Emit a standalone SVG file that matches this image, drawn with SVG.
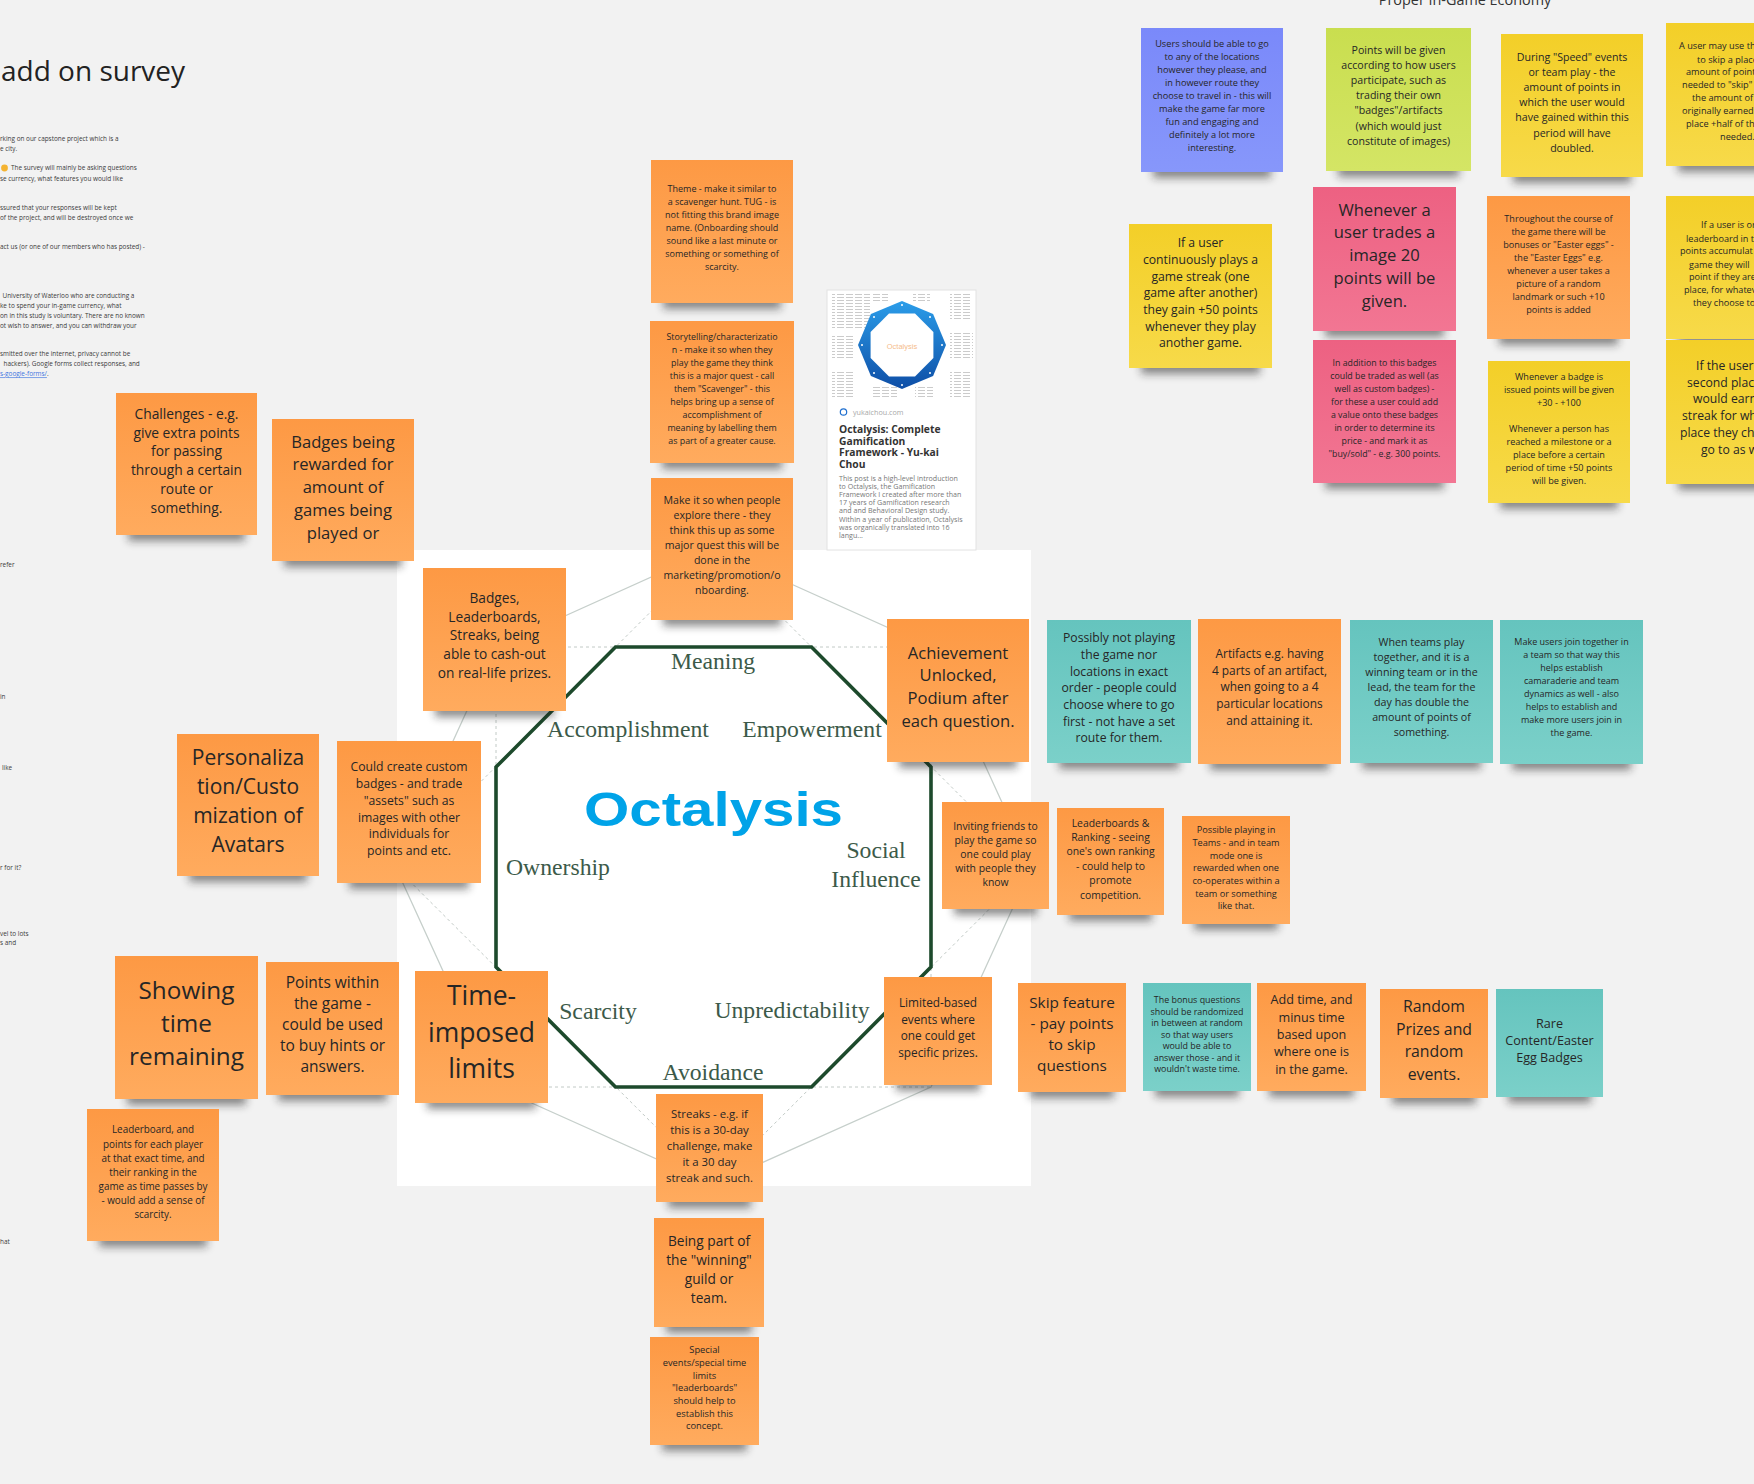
<svg xmlns="http://www.w3.org/2000/svg" width="1754" height="1484" viewBox="0 0 1754 1484">
<defs>
<linearGradient id="gO" x1="0" y1="0" x2="0" y2="1"><stop offset="0" stop-color="#fd9944"/><stop offset="1" stop-color="#ffab5e"/></linearGradient>
<linearGradient id="gT" x1="0" y1="0" x2="0" y2="1"><stop offset="0" stop-color="#65c4be"/><stop offset="1" stop-color="#7bd0c9"/></linearGradient>
<linearGradient id="gY" x1="0" y1="0" x2="0" y2="1"><stop offset="0" stop-color="#f3cf28"/><stop offset="1" stop-color="#f7da49"/></linearGradient>
<linearGradient id="gP" x1="0" y1="0" x2="0" y2="1"><stop offset="0" stop-color="#ed6182"/><stop offset="1" stop-color="#f27693"/></linearGradient>
<linearGradient id="gB" x1="0" y1="0" x2="0" y2="1"><stop offset="0" stop-color="#7a89fa"/><stop offset="1" stop-color="#8797fb"/></linearGradient>
<linearGradient id="gG" x1="0" y1="0" x2="0" y2="1"><stop offset="0" stop-color="#c9de4f"/><stop offset="1" stop-color="#d4e565"/></linearGradient>
<linearGradient id="gOct" x1="0" y1="0" x2="0" y2="1"><stop offset="0" stop-color="#2b9de9"/><stop offset="1" stop-color="#0e4ea6"/></linearGradient>
<filter id="blur" x="-30%" y="-100%" width="160%" height="300%"><feGaussianBlur stdDeviation="4.5"/></filter>
<pattern id="tt" width="9" height="3" patternUnits="userSpaceOnUse"><rect x="0" y="0" width="7" height="0.7" fill="#b4b4b4"/></pattern>
<style>
.o{fill:url(#gO)}.tl{fill:url(#gT)}.y{fill:url(#gY)}.p{fill:url(#gP)}.b{fill:url(#gB)}.g{fill:url(#gG)}
.sh{fill:#1a1a1a;opacity:.5;filter:url(#blur)}
.t{font-family:"Open Sans","Liberation Sans",sans-serif;fill:#262626;text-anchor:middle}
.ts{font-family:"Open Sans","Liberation Sans",sans-serif;fill:#262626;text-anchor:start}
.lbl{font-family:"Liberation Serif",serif;font-size:23.7px;fill:#3c5a49;text-anchor:middle}
.tiny{font-family:"Open Sans","Liberation Sans",sans-serif;font-size:6.4px;fill:#3a3a3a}
.sol{fill:none;stroke:#c6cfcb;stroke-width:1.3}
.dsh{fill:none;stroke:#c2cac6;stroke-width:1;stroke-dasharray:3 3}
</style>
</defs>
<rect width="1754" height="1484" fill="#f2f2f2"/>

<g id="survey-text">
<text x="1" y="81" style="font-family:'Open Sans','Liberation Sans',sans-serif;font-size:28px;fill:#222">add on survey</text>
<g class="tiny">
<text x="0" y="141.2">rking on our capstone project which is a</text>
<text x="0" y="151.2">e city.</text>
<text x="11" y="170.2">The survey will mainly be asking questions</text>
<text x="0" y="181.2">se currency, what features you would like</text>
<text x="0" y="210.2">ssured that your responses will be kept</text>
<text x="0" y="219.6">of the project, and will be destroyed once we</text>
<text x="0" y="249.2">act us (or one of our members who has posted) -</text>
<text x="2.5" y="298.2">University of Waterloo who are conducting a</text>
<text x="0" y="307.6">ke to spend your in-game currency, what</text>
<text x="0" y="318">on in this study is voluntary. There are no known</text>
<text x="0" y="327.6">ot wish to answer, and you can withdraw your</text>
<text x="0" y="356.2">smitted over the internet, privacy cannot be</text>
<text x="3.5" y="366.4">hackers).  Google forms collect responses, and</text>
<text x="0" y="376.4"><tspan fill="#3d74e0" text-decoration="underline">s-google-forms/</tspan>.</text>
<text x="0" y="567">refer</text>
<text x="0" y="699">in</text>
<text x="2" y="770">like</text>
<text x="0" y="870">r for it?</text>
<text x="0" y="936">vel to lots</text>
<text x="0" y="945">s and</text>
<text x="0" y="1244">hat</text>
</g>
<circle cx="4.5" cy="168" r="3.4" fill="#f4b331"/>
</g>

<text x="1465" y="5" style="font-family:'Open Sans','Liberation Sans',sans-serif;font-size:14.4px;fill:#333;text-anchor:middle">Proper In-Game Economy</text>

<g id="octalysis-panel">
<rect x="397" y="550" width="634" height="636" fill="#ffffff"/>
</g>

<g id="connectors">
<polygon class="sol" points="713.5,549 931,647 1031.5,867 931,1087 713.5,1184.5 496,1087 395.5,867 496,647"/>
<rect class="dsh" x="496" y="647" width="435" height="440"/>
<polygon class="dsh" points="713.5,549 1031.5,867 713.5,1184.5 395.5,867"/>
<polygon points="615.5,647 811.5,647 931,767 931,967 811.5,1087 615.5,1087 496,967 496,767" fill="#ffffff" stroke="#1d4a2c" stroke-width="3.6" stroke-linejoin="miter"/>
</g>

<g id="octalysis-labels">
<text x="713.5" y="826" textLength="259" lengthAdjust="spacingAndGlyphs" style="font-family:'Liberation Sans',Arial,sans-serif;font-weight:bold;font-size:49px;fill:#00a3e8;text-anchor:middle">Octalysis</text>
<text class="lbl" x="713" y="669">Meaning</text>
<text class="lbl" x="628" y="737">Accomplishment</text>
<text class="lbl" x="812" y="737">Empowerment</text>
<text class="lbl" x="558" y="875">Ownership</text>
<text class="lbl" x="876" y="858">Social</text>
<text class="lbl" x="876" y="887">Influence</text>
<text class="lbl" x="598" y="1019">Scarcity</text>
<text class="lbl" x="792" y="1018">Unpredictability</text>
<text class="lbl" x="713" y="1080">Avoidance</text>
</g>

<g id="card">
<rect x="827" y="290" width="149" height="260" fill="#ffffff" stroke="#e2e2e2" stroke-width="1"/>
<rect x="832" y="292" width="38" height="38" fill="url(#tt)"/>
<rect x="872" y="292" width="16" height="11" fill="url(#tt)"/>
<rect x="913" y="292" width="17" height="11" fill="url(#tt)"/>
<rect x="950" y="292" width="21" height="28" fill="url(#tt)"/>
<rect x="832" y="335" width="21" height="25" fill="url(#tt)"/>
<rect x="950" y="332" width="23" height="26" fill="url(#tt)"/>
<rect x="832" y="370" width="23" height="28" fill="url(#tt)"/>
<rect x="872" y="387" width="25" height="11" fill="url(#tt)"/>
<rect x="915" y="387" width="18" height="11" fill="url(#tt)"/>
<rect x="950" y="370" width="20" height="28" fill="url(#tt)"/>
<polygon points="902,301 933.1,313.9 946,345 933.1,376.1 902,389 870.9,376.1 858,345 870.9,313.9" fill="url(#gOct)"/>
<polygon points="889,313.6 915,313.6 933.4,332 933.4,358 915,376.4 889,376.4 870.6,358 870.6,332" fill="#ffffff"/>
<g fill="#ffffff"><circle cx="902" cy="305" r="1"/><circle cx="930" cy="317" r="1"/><circle cx="942" cy="345" r="1"/><circle cx="930" cy="373" r="1"/><circle cx="902" cy="385" r="1"/><circle cx="874" cy="373" r="1"/><circle cx="862" cy="345" r="1"/><circle cx="874" cy="317" r="1"/></g>
<text x="902" y="349" style="font-family:'Liberation Sans',sans-serif;font-size:7.5px;fill:#f5bd8c;text-anchor:middle">Octalysis</text>
<circle cx="843.5" cy="412" r="3.2" fill="none" stroke="#1f6fcf" stroke-width="1.2"/>
<text x="853" y="414.5" style="font-family:'Open Sans','Liberation Sans',sans-serif;font-size:7.2px;fill:#a8a8a8">yukaichou.com</text>
<g style="font-family:'Open Sans','Liberation Sans',sans-serif;font-weight:bold;font-size:10.3px;fill:#333">
<text x="839" y="433">Octalysis: Complete</text>
<text x="839" y="444.5">Gamification</text>
<text x="839" y="456">Framework - Yu-kai</text>
<text x="839" y="467.5">Chou</text>
</g>
<g style="font-family:'Open Sans','Liberation Sans',sans-serif;font-size:7.1px;fill:#777">
<text x="839" y="480.6">This post is a high-level introduction</text>
<text x="839" y="488.8">to Octalysis, the Gamification</text>
<text x="839" y="497">Framework I created after more than</text>
<text x="839" y="505.2">17 years of Gamification research</text>
<text x="839" y="513.4">and and Behavioral Design study.</text>
<text x="839" y="521.6">Within a year of publication, Octalysis</text>
<text x="839" y="529.8">was organically translated into 16</text>
<text x="839" y="538">langu...</text>
</g>
</g>

<g id="n-challenges"><rect class="sh" x="128" y="525" width="117" height="16"/><rect class="o" x="116" y="393" width="141" height="142"/>
<text class="t" style="font-size:13.8px"><tspan x="186.5" y="418.7">Challenges - e.g.</tspan><tspan x="186.5" y="437.5">give extra points</tspan><tspan x="186.5" y="456.3">for passing</tspan><tspan x="186.5" y="475.1">through a certain</tspan><tspan x="186.5" y="493.9">route or</tspan><tspan x="186.5" y="512.7">something.</tspan></text></g>

<g id="n-badges-rewarded"><rect class="sh" x="284" y="551" width="118" height="16"/><rect class="o" x="272" y="419" width="142" height="142"/>
<text class="t" style="font-size:16.6px"><tspan x="343" y="447.6">Badges being</tspan><tspan x="343" y="470.4">rewarded for</tspan><tspan x="343" y="493.2">amount of</tspan><tspan x="343" y="516">games being</tspan><tspan x="343" y="538.8">played or</tspan></text></g>

<g id="n-badges-leaderboards"><rect class="sh" x="435" y="701" width="119" height="16"/><rect class="o" x="423" y="568" width="143" height="143"/>
<text class="t" style="font-size:13.7px"><tspan x="494.5" y="602.7">Badges,</tspan><tspan x="494.5" y="621.5">Leaderboards,</tspan><tspan x="494.5" y="640.3">Streaks, being</tspan><tspan x="494.5" y="659.1">able to cash-out</tspan><tspan x="494.5" y="677.9">on real-life prizes.</tspan></text></g>

<g id="n-personalization"><rect class="sh" x="189" y="866" width="118" height="16"/><rect class="o" x="177" y="734" width="142" height="142"/>
<text class="t" style="font-size:21px"><tspan x="248" y="765.1">Personaliza</tspan><tspan x="248" y="794.1">tion/Custo</tspan><tspan x="248" y="823.1">mization of</tspan><tspan x="248" y="852.1">Avatars</tspan></text></g>

<g id="n-could-create"><rect class="sh" x="349" y="873" width="120" height="16"/><rect class="o" x="337" y="741" width="144" height="142"/>
<text class="t" style="font-size:12.2px"><tspan x="409" y="771.1">Could create custom</tspan><tspan x="409" y="787.9">badges - and trade</tspan><tspan x="409" y="804.7">"assets" such as</tspan><tspan x="409" y="821.5">images with other</tspan><tspan x="409" y="838.3">individuals for</tspan><tspan x="409" y="855.1">points and etc.</tspan></text></g>

<g id="n-showing-time"><rect class="sh" x="127" y="1089" width="119" height="16"/><rect class="o" x="115" y="956" width="143" height="143"/>
<text class="t" style="font-size:24.3px"><tspan x="186.5" y="999.3">Showing</tspan><tspan x="186.5" y="1032.3">time</tspan><tspan x="186.5" y="1065.3">remaining</tspan></text></g>

<g id="n-points-within"><rect class="sh" x="278" y="1085" width="109" height="16"/><rect class="o" x="266" y="962" width="133" height="133"/>
<text class="t" style="font-size:15.5px"><tspan x="332.5" y="988.3">Points within</tspan><tspan x="332.5" y="1009.3">the game -</tspan><tspan x="332.5" y="1030.3">could be used</tspan><tspan x="332.5" y="1051.3">to buy hints or</tspan><tspan x="332.5" y="1072.3">answers.</tspan></text></g>

<g id="n-time-imposed"><rect class="sh" x="427" y="1093" width="109" height="16"/><rect class="o" x="415" y="971" width="133" height="132"/>
<text class="t" style="font-size:26.5px"><tspan x="481.5" y="1005">Time-</tspan><tspan x="481.5" y="1041.5">imposed</tspan><tspan x="481.5" y="1078">limits</tspan></text></g>

<g id="n-leaderboard-points"><rect class="sh" x="99" y="1231" width="108" height="16"/><rect class="o" x="87" y="1109" width="132" height="132"/>
<text class="t" style="font-size:9.9px"><tspan x="153" y="1133.4">Leaderboard, and</tspan><tspan x="153" y="1147.5">points for each player</tspan><tspan x="153" y="1161.6">at that exact time, and</tspan><tspan x="153" y="1175.7">their ranking in the</tspan><tspan x="153" y="1189.8">game as time passes by</tspan><tspan x="153" y="1203.9">- would add a sense of</tspan><tspan x="153" y="1218">scarcity.</tspan></text></g>

<g id="n-theme"><rect class="sh" x="663" y="293" width="118" height="16"/><rect class="o" x="651" y="160" width="142" height="143"/>
<text class="t" style="font-size:9px"><tspan x="722" y="192.1">Theme - make it similar to</tspan><tspan x="722" y="205.1">a scavenger hunt. TUG - is</tspan><tspan x="722" y="218.1">not fitting this brand image</tspan><tspan x="722" y="231.1">name. (Onboarding should</tspan><tspan x="722" y="244.1">sound like a last minute or</tspan><tspan x="722" y="257.1">something or something of</tspan><tspan x="722" y="270.1">scarcity.</tspan></text></g>

<g id="n-storytelling"><rect class="sh" x="662" y="453" width="120" height="16"/><rect class="o" x="650" y="321" width="144" height="142"/>
<text class="t" style="font-size:8.9px"><tspan x="722" y="340">Storytelling/characterizatio</tspan><tspan x="722" y="353">n - make it so when they</tspan><tspan x="722" y="366">play the game they think</tspan><tspan x="722" y="379">this is a major quest - call</tspan><tspan x="722" y="392">them "Scavenger" - this</tspan><tspan x="722" y="405">helps bring up a sense of</tspan><tspan x="722" y="418">accomplishment of</tspan><tspan x="722" y="431">meaning by labelling them</tspan><tspan x="722" y="444">as part of a greater cause.</tspan></text></g>

<g id="n-make-it-so"><rect class="sh" x="663" y="610" width="118" height="16"/><rect class="o" x="651" y="478" width="142" height="142"/>
<text class="t" style="font-size:10.6px"><tspan x="722" y="503.6">Make it so when people</tspan><tspan x="722" y="518.7">explore there - they</tspan><tspan x="722" y="533.8">think this up as some</tspan><tspan x="722" y="548.9">major quest this will be</tspan><tspan x="722" y="564">done in the</tspan><tspan x="722" y="579.1">marketing/promotion/o</tspan><tspan x="722" y="594.2">nboarding.</tspan></text></g>

<g id="n-streaks"><rect class="sh" x="668" y="1192" width="83" height="16"/><rect class="o" x="656" y="1094" width="107" height="108"/>
<text class="t" style="font-size:11.4px"><tspan x="709.5" y="1117.9">Streaks - e.g. if</tspan><tspan x="709.5" y="1133.9">this is a 30-day</tspan><tspan x="709.5" y="1149.9">challenge, make</tspan><tspan x="709.5" y="1165.9">it a 30 day</tspan><tspan x="709.5" y="1181.9">streak and such.</tspan></text></g>

<g id="n-being-part"><rect class="sh" x="666" y="1317" width="86" height="16"/><rect class="o" x="654" y="1218" width="110" height="109"/>
<text class="t" style="font-size:13.7px"><tspan x="709" y="1245.7">Being part of</tspan><tspan x="709" y="1264.9">the "winning"</tspan><tspan x="709" y="1284.1">guild or</tspan><tspan x="709" y="1303.3">team.</tspan></text></g>

<g id="n-special-events"><rect class="sh" x="662" y="1435" width="85" height="16"/><rect class="o" x="650" y="1337" width="109" height="108"/>
<text class="t" style="font-size:9.3px"><tspan x="704.5" y="1353.2">Special</tspan><tspan x="704.5" y="1365.9">events/special time</tspan><tspan x="704.5" y="1378.6">limits</tspan><tspan x="704.5" y="1391.3">"leaderboards"</tspan><tspan x="704.5" y="1404">should help to</tspan><tspan x="704.5" y="1416.7">establish this</tspan><tspan x="704.5" y="1429.4">concept.</tspan></text></g>

<g id="n-achievement"><rect class="sh" x="899" y="752" width="118" height="16"/><rect class="o" x="887" y="619" width="142" height="143"/>
<text class="t" style="font-size:16.6px"><tspan x="958" y="658.6">Achievement</tspan><tspan x="958" y="681.4">Unlocked,</tspan><tspan x="958" y="704.2">Podium after</tspan><tspan x="958" y="727">each question.</tspan></text></g>

<g id="n-inviting"><rect class="sh" x="954" y="899" width="83" height="16"/><rect class="o" x="942" y="802" width="107" height="107"/>
<text class="t" style="font-size:10.4px"><tspan x="995.5" y="829.5">Inviting friends to</tspan><tspan x="995.5" y="843.7">play the game so</tspan><tspan x="995.5" y="857.9">one could play</tspan><tspan x="995.5" y="872.1">with people they</tspan><tspan x="995.5" y="886.3">know</tspan></text></g>

<g id="n-limited"><rect class="sh" x="896" y="1075" width="84" height="16"/><rect class="o" x="884" y="977" width="108" height="108"/>
<text class="t" style="font-size:11.8px"><tspan x="938" y="1007">Limited-based</tspan><tspan x="938" y="1023.7">events where</tspan><tspan x="938" y="1040.4">one could get</tspan><tspan x="938" y="1057.1">specific prizes.</tspan></text></g>

<g id="n-leaderboards-ranking"><rect class="sh" x="1069" y="905" width="83" height="16"/><rect class="o" x="1057" y="808" width="107" height="107"/>
<text class="t" style="font-size:10.4px"><tspan x="1110.5" y="826.5">Leaderboards &amp;</tspan><tspan x="1110.5" y="840.9">Ranking - seeing</tspan><tspan x="1110.5" y="855.3">one's own ranking</tspan><tspan x="1110.5" y="869.7">- could help to</tspan><tspan x="1110.5" y="884.1">promote</tspan><tspan x="1110.5" y="898.5">competition.</tspan></text></g>

<g id="n-possible-teams"><rect class="sh" x="1194" y="914" width="84" height="16"/><rect class="o" x="1182" y="816" width="108" height="108"/>
<text class="t" style="font-size:9.2px"><tspan x="1236" y="833.1">Possible playing in</tspan><tspan x="1236" y="845.8">Teams - and in team</tspan><tspan x="1236" y="858.5">mode one is</tspan><tspan x="1236" y="871.2">rewarded when one</tspan><tspan x="1236" y="883.9">co-operates within a</tspan><tspan x="1236" y="896.6">team or something</tspan><tspan x="1236" y="909.3">like that.</tspan></text></g>

<g id="n-possibly-not"><rect class="sh" x="1059" y="753" width="120" height="16"/><rect class="tl" x="1047" y="620" width="144" height="143"/>
<text class="t" style="font-size:12.2px"><tspan x="1119" y="642.1">Possibly not playing</tspan><tspan x="1119" y="658.8">the game nor</tspan><tspan x="1119" y="675.5">locations in exact</tspan><tspan x="1119" y="692.2">order - people could</tspan><tspan x="1119" y="708.9">choose where to go</tspan><tspan x="1119" y="725.6">first - not have a set</tspan><tspan x="1119" y="742.3">route for them.</tspan></text></g>

<g id="n-artifacts"><rect class="sh" x="1210" y="754" width="119" height="16"/><rect class="o" x="1198" y="619" width="143" height="145"/>
<text class="t" style="font-size:11.9px"><tspan x="1269.5" y="658">Artifacts e.g. having</tspan><tspan x="1269.5" y="674.7">4 parts of an artifact,</tspan><tspan x="1269.5" y="691.4">when going to a 4</tspan><tspan x="1269.5" y="708.1">particular locations</tspan><tspan x="1269.5" y="724.8">and attaining it.</tspan></text></g>

<g id="n-when-teams"><rect class="sh" x="1362" y="753" width="119" height="16"/><rect class="tl" x="1350" y="620" width="143" height="143"/>
<text class="t" style="font-size:10.7px"><tspan x="1421.5" y="645.6">When teams play</tspan><tspan x="1421.5" y="660.7">together, and it is a</tspan><tspan x="1421.5" y="675.8">winning team or in the</tspan><tspan x="1421.5" y="690.9">lead, the team for the</tspan><tspan x="1421.5" y="706">day has double the</tspan><tspan x="1421.5" y="721.1">amount of points of</tspan><tspan x="1421.5" y="736.2">something.</tspan></text></g>

<g id="n-make-users"><rect class="sh" x="1512" y="754" width="119" height="16"/><rect class="tl" x="1500" y="620" width="143" height="144"/>
<text class="t" style="font-size:9px"><tspan x="1571.5" y="645.1">Make users join together in</tspan><tspan x="1571.5" y="658.1">a team so that way this</tspan><tspan x="1571.5" y="671.1">helps establish</tspan><tspan x="1571.5" y="684.1">camaraderie and team</tspan><tspan x="1571.5" y="697.1">dynamics as well - also</tspan><tspan x="1571.5" y="710.1">helps to establish and</tspan><tspan x="1571.5" y="723.1">make more users join in</tspan><tspan x="1571.5" y="736.1">the game.</tspan></text></g>

<g id="n-skip"><rect class="sh" x="1030" y="1082" width="84" height="16"/><rect class="o" x="1018" y="983" width="108" height="109"/>
<text class="t" style="font-size:15.3px"><tspan x="1072" y="1008.2">Skip feature</tspan><tspan x="1072" y="1029.2">- pay points</tspan><tspan x="1072" y="1050.2">to skip</tspan><tspan x="1072" y="1071.2">questions</tspan></text></g>

<g id="n-bonus-questions"><rect class="sh" x="1155" y="1081" width="84" height="16"/><rect class="tl" x="1143" y="983" width="108" height="108"/>
<text class="t" style="font-size:8.9px"><tspan x="1197" y="1003.1">The bonus questions</tspan><tspan x="1197" y="1014.6">should be randomized</tspan><tspan x="1197" y="1026.1">in between at random</tspan><tspan x="1197" y="1037.6">so that way users</tspan><tspan x="1197" y="1049.1">would be able to</tspan><tspan x="1197" y="1060.6">answer those - and it</tspan><tspan x="1197" y="1072.1">wouldn't waste time.</tspan></text></g>

<g id="n-add-time"><rect class="sh" x="1269" y="1081" width="85" height="16"/><rect class="o" x="1257" y="983" width="109" height="108"/>
<text class="t" style="font-size:12.6px"><tspan x="1311.5" y="1004.3">Add time, and</tspan><tspan x="1311.5" y="1021.6">minus time</tspan><tspan x="1311.5" y="1038.9">based upon</tspan><tspan x="1311.5" y="1056.2">where one is</tspan><tspan x="1311.5" y="1073.5">in the game.</tspan></text></g>

<g id="n-random-prizes"><rect class="sh" x="1392" y="1088" width="84" height="16"/><rect class="o" x="1380" y="989" width="108" height="109"/>
<text class="t" style="font-size:15.8px"><tspan x="1434" y="1012.4">Random</tspan><tspan x="1434" y="1034.8">Prizes and</tspan><tspan x="1434" y="1057.2">random</tspan><tspan x="1434" y="1079.6">events.</tspan></text></g>

<g id="n-rare-content"><rect class="sh" x="1508" y="1087" width="83" height="16"/><rect class="tl" x="1496" y="989" width="107" height="108"/>
<text class="t" style="font-size:12.6px"><tspan x="1549.5" y="1028.3">Rare</tspan><tspan x="1549.5" y="1045.3">Content/Easter</tspan><tspan x="1549.5" y="1062.3">Egg Badges</tspan></text></g>

<g id="n-users-locations"><rect class="sh" x="1153" y="162" width="118" height="16"/><rect class="b" x="1141" y="28" width="142" height="144"/>
<text class="t" style="font-size:9.2px"><tspan x="1212" y="47.1">Users should be able to go</tspan><tspan x="1212" y="60.1">to any of the locations</tspan><tspan x="1212" y="73.1">however they please, and</tspan><tspan x="1212" y="86.1">in however route they</tspan><tspan x="1212" y="99.1">choose to travel in - this will</tspan><tspan x="1212" y="112.1">make the game far more</tspan><tspan x="1212" y="125.1">fun and engaging and</tspan><tspan x="1212" y="138.1">definitely a lot more</tspan><tspan x="1212" y="151.1">interesting.</tspan></text></g>

<g id="n-points-given"><rect class="sh" x="1338" y="161" width="121" height="16"/><rect class="g" x="1326" y="28" width="145" height="143"/>
<text class="t" style="font-size:10.6px"><tspan x="1398.5" y="53.6">Points will be given</tspan><tspan x="1398.5" y="68.8">according to how users</tspan><tspan x="1398.5" y="84">participate, such as</tspan><tspan x="1398.5" y="99.2">trading their own</tspan><tspan x="1398.5" y="114.4">"badges"/artifacts</tspan><tspan x="1398.5" y="129.6">(which would just</tspan><tspan x="1398.5" y="144.8">constitute of images)</tspan></text></g>

<g id="n-speed-events"><rect class="sh" x="1513" y="167" width="118" height="16"/><rect class="y" x="1501" y="34" width="142" height="143"/>
<text class="t" style="font-size:10.6px"><tspan x="1572" y="60.6">During "Speed" events</tspan><tspan x="1572" y="75.8">or team play - the</tspan><tspan x="1572" y="91">amount of points in</tspan><tspan x="1572" y="106.2">which the user would</tspan><tspan x="1572" y="121.4">have gained within this</tspan><tspan x="1572" y="136.6">period will have</tspan><tspan x="1572" y="151.8">doubled.</tspan></text></g>

<g id="n-skip-place"><rect class="sh" x="1678" y="156" width="118" height="16"/><rect class="y" x="1666" y="23" width="142" height="143"/>
<text class="ts" style="font-size:9.2px"><tspan x="1679" y="49.1">A user may use th</tspan><tspan x="1697" y="62.6">to skip a place</tspan><tspan x="1686" y="75.1">amount of point</tspan><tspan x="1682" y="88.1">needed to "skip"</tspan><tspan x="1692" y="101.1">the amount of</tspan><tspan x="1682" y="114.1">originally earned</tspan><tspan x="1686" y="127.1">place +half of th</tspan><tspan x="1720" y="140.1">needed.</tspan></text></g>

<g id="n-game-streak"><rect class="sh" x="1141" y="358" width="119" height="16"/><rect class="y" x="1129" y="224" width="143" height="144"/>
<text class="t" style="font-size:12.2px"><tspan x="1200.5" y="247.1">If a user</tspan><tspan x="1200.5" y="263.8">continuously plays a</tspan><tspan x="1200.5" y="280.5">game streak (one</tspan><tspan x="1200.5" y="297.2">game after another)</tspan><tspan x="1200.5" y="313.9">they gain +50 points</tspan><tspan x="1200.5" y="330.6">whenever they play</tspan><tspan x="1200.5" y="347.3">another game.</tspan></text></g>

<g id="n-trades-image"><rect class="sh" x="1325" y="321" width="119" height="16"/><rect class="p" x="1313" y="187" width="143" height="144"/>
<text class="t" style="font-size:16.6px"><tspan x="1384.5" y="215.6">Whenever a</tspan><tspan x="1384.5" y="238.4">user trades a</tspan><tspan x="1384.5" y="261.2">image 20</tspan><tspan x="1384.5" y="284">points will be</tspan><tspan x="1384.5" y="306.8">given.</tspan></text></g>

<g id="n-badges-traded"><rect class="sh" x="1325" y="473" width="119" height="16"/><rect class="p" x="1313" y="340" width="143" height="143"/>
<text class="t" style="font-size:8.8px"><tspan x="1384.5" y="366">In addition to this badges</tspan><tspan x="1384.5" y="379">could be traded as well (as</tspan><tspan x="1384.5" y="392">well as custom badges) -</tspan><tspan x="1384.5" y="405">for these a user could add</tspan><tspan x="1384.5" y="418">a value onto these badges</tspan><tspan x="1384.5" y="431">in order to determine its</tspan><tspan x="1384.5" y="444">price - and mark it as</tspan><tspan x="1384.5" y="457">"buy/sold" - e.g. 300 points.</tspan></text></g>

<g id="n-easter-eggs"><rect class="sh" x="1499" y="329" width="119" height="16"/><rect class="o" x="1487" y="196" width="143" height="143"/>
<text class="t" style="font-size:9.1px"><tspan x="1558.5" y="222.1">Throughout the course of</tspan><tspan x="1558.5" y="235.1">the game there will be</tspan><tspan x="1558.5" y="248.1">bonuses or "Easter eggs" -</tspan><tspan x="1558.5" y="261.1">the "Easter Eggs" e.g.</tspan><tspan x="1558.5" y="274.1">whenever a user takes a</tspan><tspan x="1558.5" y="287.1">picture of a random</tspan><tspan x="1558.5" y="300.1">landmark or such +10</tspan><tspan x="1558.5" y="313.1">points is added</tspan></text></g>

<g id="n-badge-issued"><rect class="sh" x="1500" y="493" width="118" height="16"/><rect class="y" x="1488" y="361" width="142" height="142"/>
<text class="t" style="font-size:9.1px"><tspan x="1559" y="380.1">Whenever a badge is</tspan><tspan x="1559" y="393.1">issued points will be given</tspan><tspan x="1559" y="406.1">+30 - +100</tspan><tspan x="1559" y="432.1">Whenever a person has</tspan><tspan x="1559" y="445.1">reached a milestone or a</tspan><tspan x="1559" y="458.1">place before a certain</tspan><tspan x="1559" y="471.1">period of time +50 points</tspan><tspan x="1559" y="484.1">will be given.</tspan></text></g>

<g id="n-leaderboard-top"><rect class="sh" x="1678" y="329" width="118" height="16"/><rect class="y" x="1666" y="196" width="142" height="143"/>
<text class="ts" style="font-size:9.1px"><tspan x="1701" y="228.1">If a user is or</tspan><tspan x="1686" y="242.1">leaderboard in t</tspan><tspan x="1680" y="254.1">points accumulat</tspan><tspan x="1689" y="268.1">game they will</tspan><tspan x="1689" y="280.1">point if they are</tspan><tspan x="1684" y="293.1">place, for whatev</tspan><tspan x="1693" y="306.1">they choose to</tspan></text></g>

<g id="n-second-place"><rect class="sh" x="1678" y="474" width="118" height="16"/><rect class="y" x="1666" y="340" width="142" height="144"/>
<text class="ts" style="font-size:12.2px"><tspan x="1696" y="370.1">If the user</tspan><tspan x="1687" y="387.1">second plac</tspan><tspan x="1693" y="403.1">would earn</tspan><tspan x="1682" y="420.1">streak for wh</tspan><tspan x="1680" y="437.1">place they ch</tspan><tspan x="1701" y="454.1">go to as w</tspan></text></g>
</svg>
